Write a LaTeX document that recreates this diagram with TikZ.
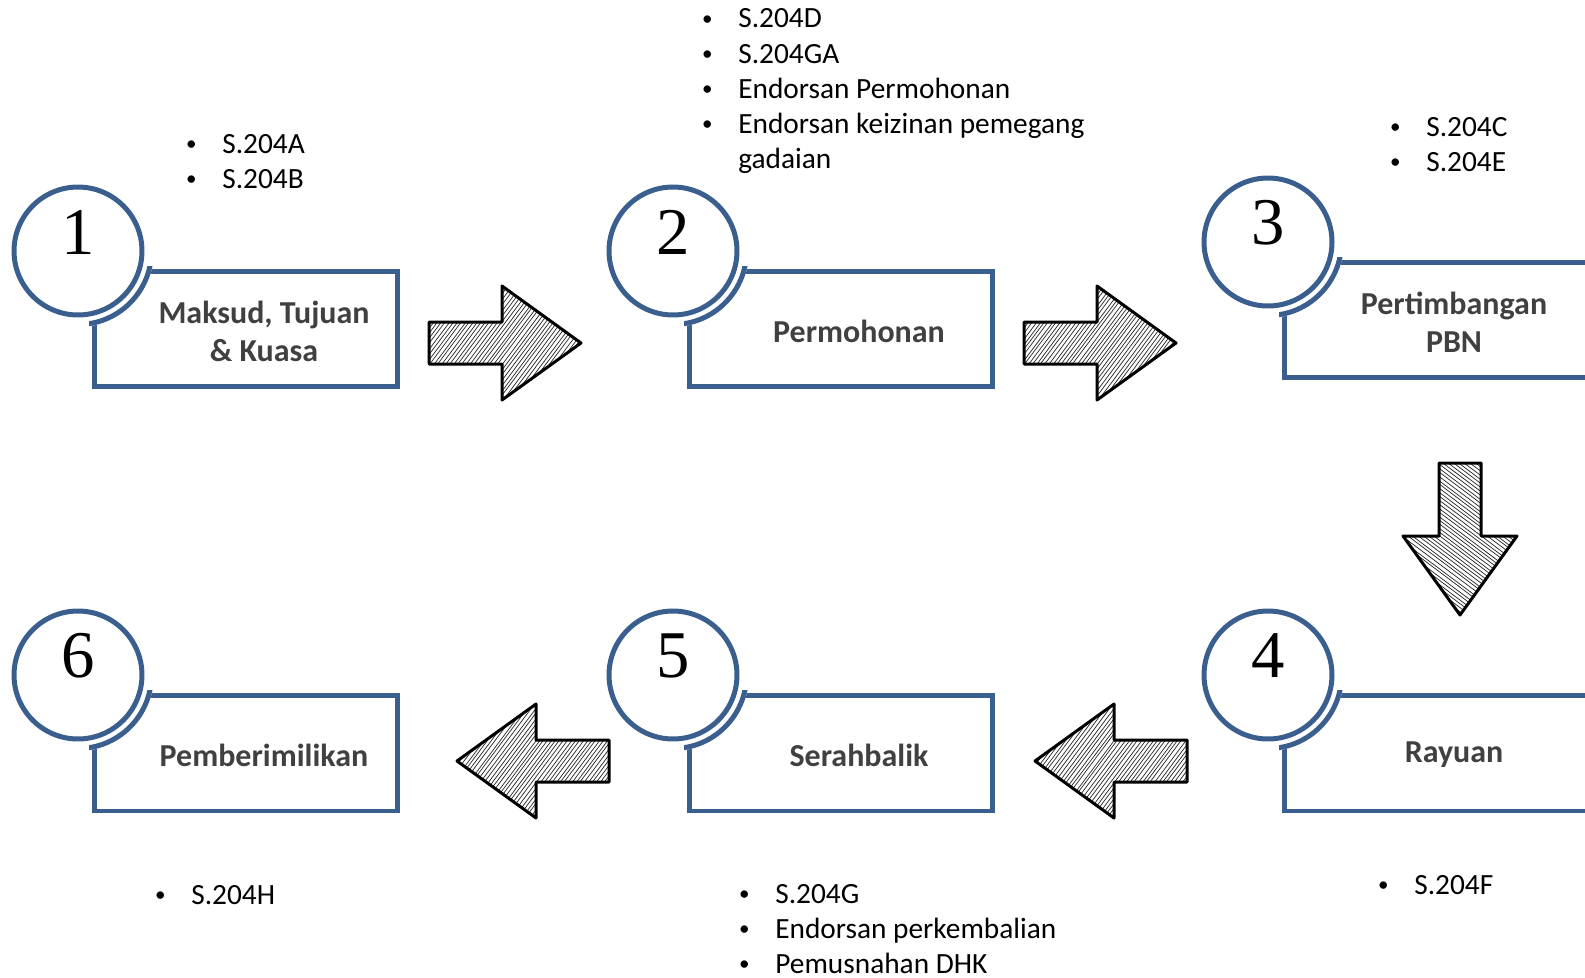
\documentclass[tikz,border=0pt]{standalone}
\usepackage{fontspec}
\setsansfont{Carlito}
\newfontfamily\numfont{Liberation Serif}
\usetikzlibrary{positioning, calc}

\definecolor{stepblue}{RGB}{58,95,143}
\definecolor{labelgray}{RGB}{64,64,64}

% bullet hung to the left of the item text
\newcommand{\bul}{\llap{\makebox[1.24cm][c]{\raisebox{0.1em}{\fontsize{12}{12}\selectfont\textbullet}}}}

\tikzset{
  stepbox/.style={draw=stepblue, line width=0.1cm, minimum width=6.08cm,
    minimum height=2.32cm, inner sep=0pt},
  numcirc/.style={circle, draw=stepblue, fill=white, line width=0.1cm,
    minimum size=2.56cm, inner sep=0pt},
  numtext/.style={inner sep=0pt, font=\numfont\fontsize{38}{38}\selectfont},
  boxtext/.style={align=center, inner sep=0pt, text=labelgray,
    font=\sffamily\bfseries\fontsize{18.2}{21.6}\selectfont},
  item/.style={anchor=base west, inner sep=0pt,
    font=\sffamily\fontsize{16.7}{19.9}\selectfont},
  hatch/.style={black!85, line width=0.4pt},
  arrowline/.style={black, line width=0.06cm, line join=round},
  hatcharrow/.pic={
    \begin{scope}
      \clip (-76,-21) -- (-3,-21) -- (-3,-57) -- (76,0) -- (-3,57)
        -- (-3,21) -- (-76,21) -- cycle;
      \foreach \t in {-184,-180,...,80}
        \draw[hatch] ({\t+1.5*rnd},80) -- ({\t+120+1.5*rnd},-80);
    \end{scope}
    \draw[arrowline] (-76,-21) -- (-3,-21) -- (-3,-57) -- (76,0) -- (-3,57)
      -- (-3,21) -- (-76,21) -- cycle;
  },
}

\begin{document}
\begin{tikzpicture}[x=0.02cm, y=-0.02cm]
\useasboundingbox (0,0) rectangle (1585,977);

% ---- block arrows between the steps ----
\coordinate (a12) at (505,343);
\coordinate (a23) at (1100,343);
\coordinate (a34) at (1460,539);
\coordinate (a45) at (1111,761);
\coordinate (a56) at (533,761);
\pic at (a12) {hatcharrow};
\pic at (a23) {hatcharrow};
\pic[rotate=-90] at (a34) {hatcharrow};
\pic[rotate=180] at (a45) {hatcharrow};
\pic[rotate=180] at (a56) {hatcharrow};

% ---- steps: box, cut-out ring, numbered circle, label ----
\foreach \i/\bx/\by/\txt in {1/246/329/{Maksud, Tujuan\\\& Kuasa},
    2/841/329/Permohonan, 3/1436/320/{Pertimbangan\\PBN},
    4/1436/753/Rayuan, 5/841/753/Serahbalik, 6/246/753/Pemberimilikan}{
  \node[stepbox] (b\i) at (\bx,\by) {};
  \begin{scope}
    \clip ([shift={(-2.5,2.5)}]b\i.south west) rectangle ([shift={(2.5,-2.5)}]b\i.north east);
    \fill[white] ([shift={(-168,-78)}]b\i.center) circle (76);
    \draw[stepblue, line width=0.1cm] ([shift={(-168,-78)}]b\i.center) circle (73.5);
  \end{scope}
  \node[numcirc] (c\i) at ([shift={(-168,-78)}]b\i.center) {};
  \node[numtext] (n\i) at ([yshift=0.38cm]c\i.center) {\i};
  \node[boxtext] (t\i) at ([shift={(18,2)}]b\i.center) {\txt};
}

% ---- section lists ----
\foreach \t [count=\k] in {S.204A, S.204B}
  \node[item] (g1-\k) at (222,118+35*\k) {\bul\t};
\foreach \t [count=\k] in {S.204D, S.204GA, Endorsan Permohonan, Endorsan keizinan pemegang}
  \node[item] (g2-\k) at (738,-7+35*\k) {\bul\t};
\node[item] (g2-5) at (738,168) {gadaian};
\foreach \t [count=\k] in {S.204C, S.204E}
  \node[item] (g3-\k) at (1426,101+35*\k) {\bul\t};
\node[item] (g4-1) at (1414,894) {\bul S.204F};
\foreach \t [count=\k] in {S.204G, Endorsan perkembalian, Pemusnahan DHK}
  \node[item] (g5-\k) at (775,868+35*\k) {\bul\t};
\node[item] (g6-1) at (191,904) {\bul S.204H};

\end{tikzpicture}
\end{document}
